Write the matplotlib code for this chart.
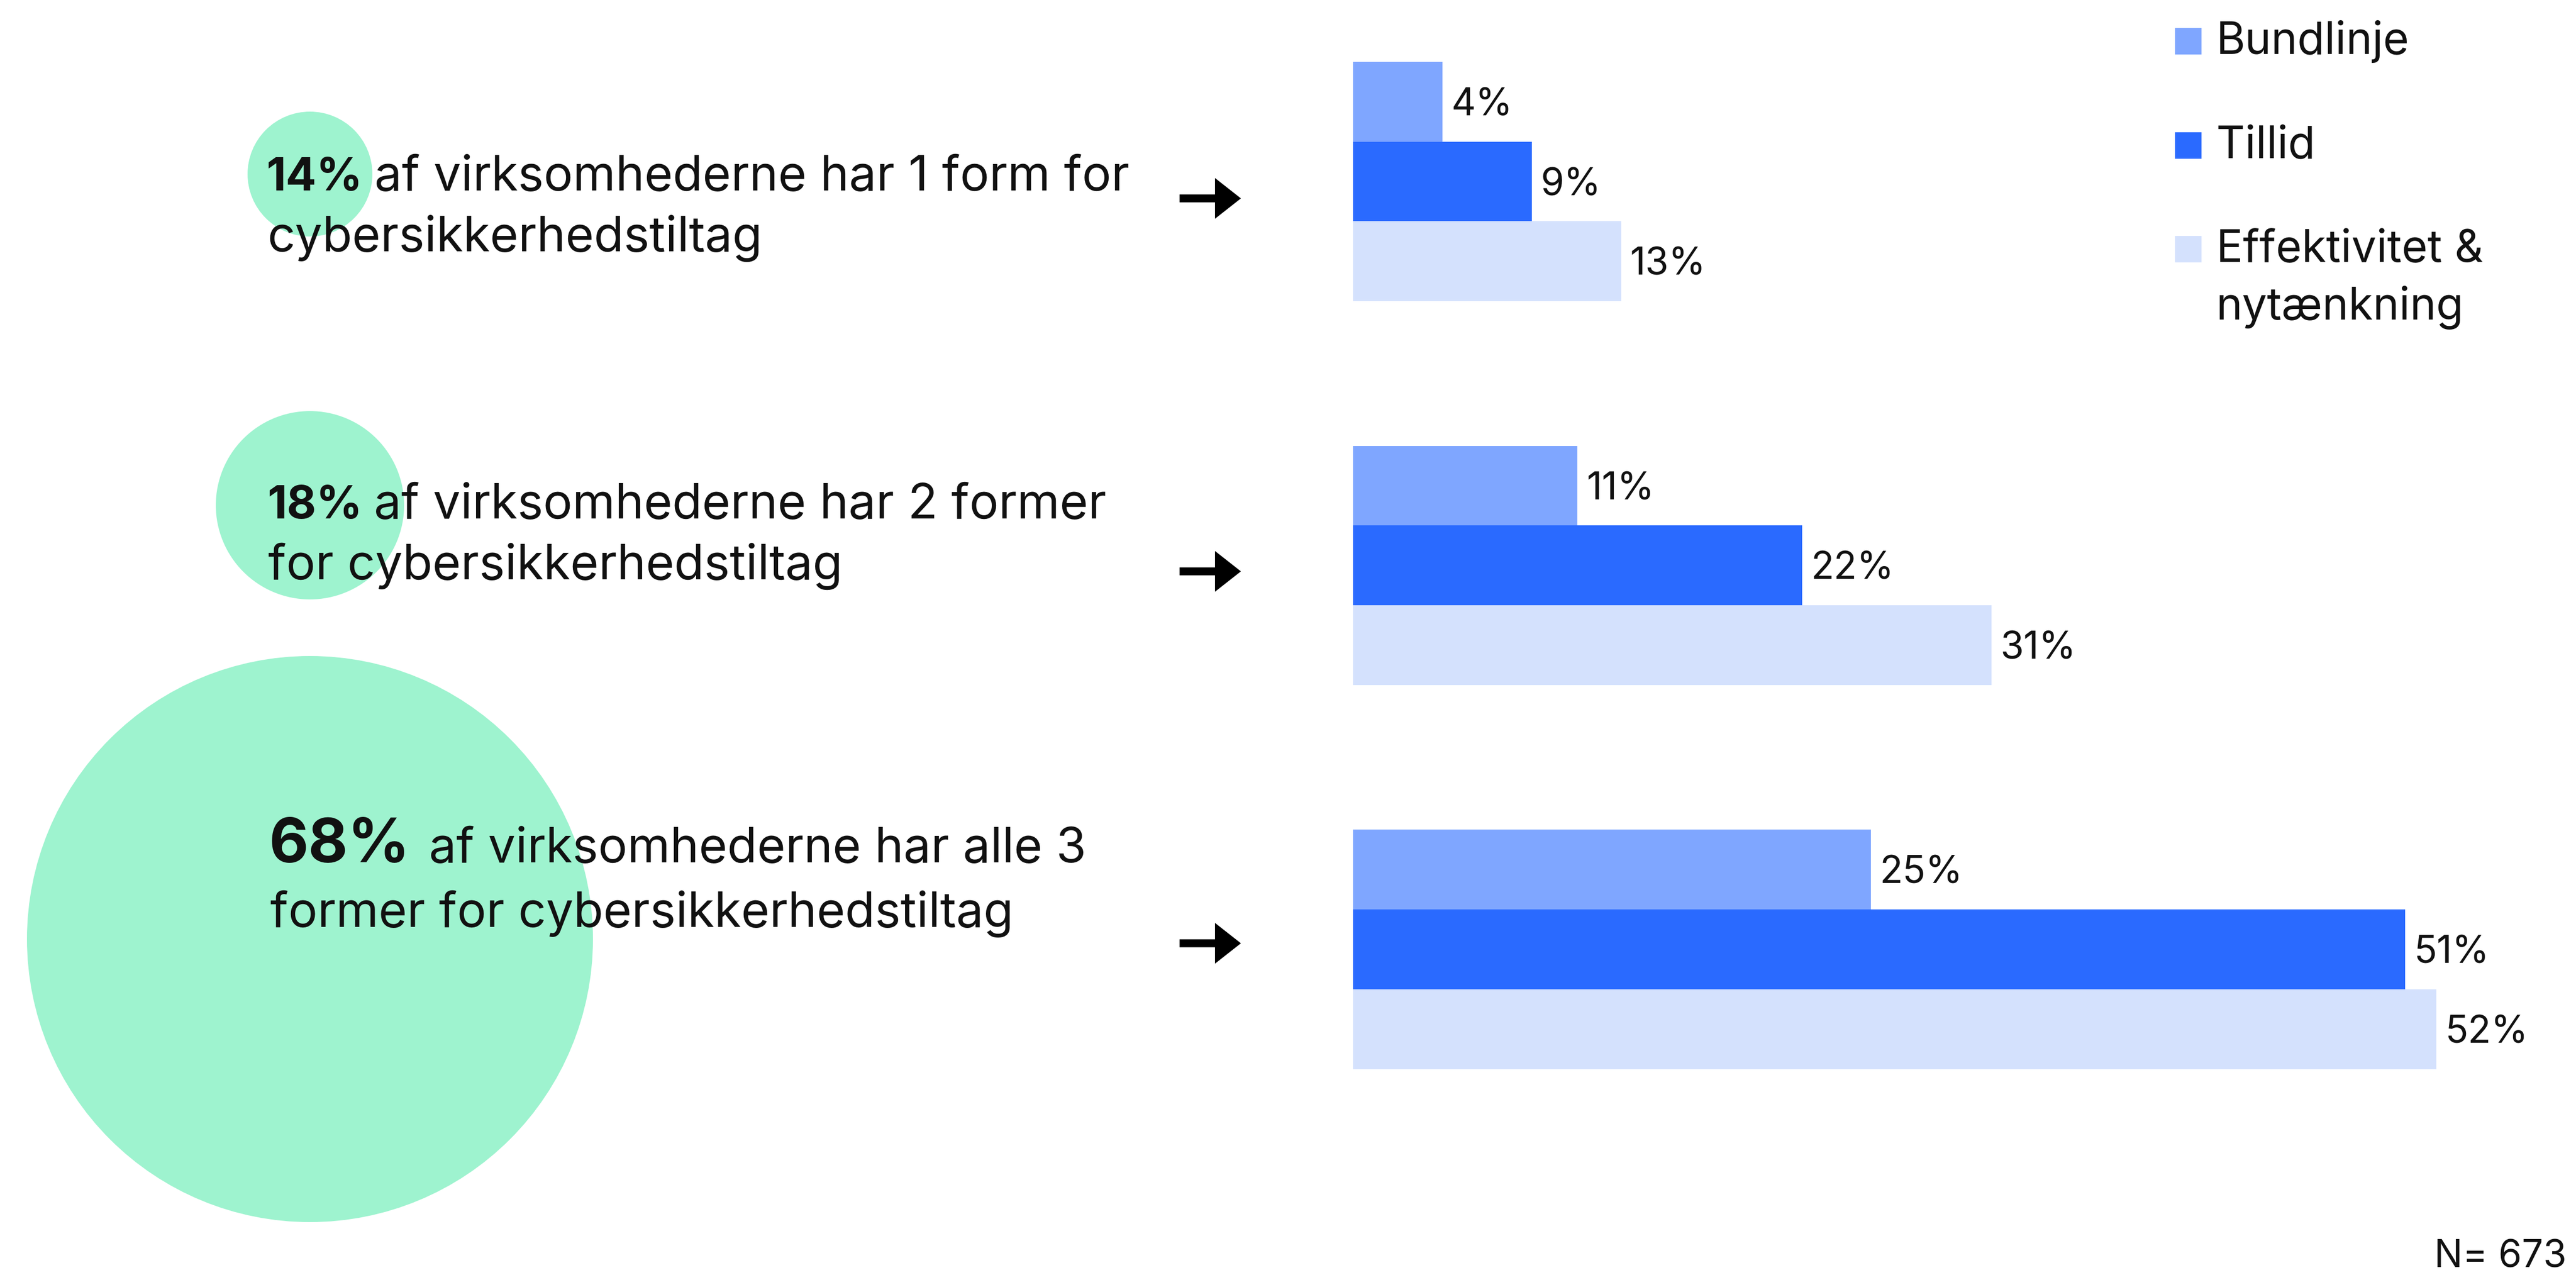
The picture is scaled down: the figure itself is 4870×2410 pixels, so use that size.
import matplotlib
matplotlib.use("Agg")
import matplotlib.pyplot as plt
from matplotlib.patches import Circle, Rectangle, FancyArrow

plt.rcParams['font.family'] = ['Inter', 'DejaVu Sans']

# ---------------- data ----------------
share_pct = [14, 18, 68]
bold_labels = ["14%", "18%", "68%"]
text_line1 = ["af virksomhederne har 1 form for",
              "af virksomhederne har 2 former",
              "af virksomhederne har alle 3"]
text_line2 = ["cybersikkerhedstiltag",
              "for cybersikkerhedstiltag",
              "former for cybersikkerhedstiltag"]
series_names = ["Bundlinje", "Tillid", "Effektivitet &\nnytænkning"]
bundlinje = [4.3, 10.8, 24.9]
tillid = [8.6, 21.6, 50.6]
effektivitet = [12.9, 30.7, 52.1]
n_text = "N= 673"

# ---------------- styles ----------------
W, H = 4870, 2410
colors = ["#7FA6FF", "#2A6AFF", "#D4E1FD"]
circle_color = "#9EF3CF"
txt_color = "#111111"
PT = 72 / 100.0  # px -> pt

fig = plt.figure(figsize=(W / 100, H / 100), dpi=100)
ax0 = fig.add_axes([0, 0, 1, 1])
ax0.set_xlim(0, W)
ax0.set_ylim(H, 0)
ax0.axis("off")

# circles (bubble sizes)
circle_cx = 586
circle_cy = [329, 955, 1775]
circle_r = [118, 178, 535]
for cy, r in zip(circle_cy, circle_r):
    ax0.add_patch(Circle((circle_cx, cy), r, color=circle_color, lw=0, zorder=1))

# texts
main_fs = 67 / 0.727 * PT
bold_fs = [main_fs * 0.93, main_fs * 0.93, 88 / 0.727 * PT * 0.95]
text_x = [503, 505, 509]
rest_x = [708, 707, 811]
base1 = [360, 980, 1630]
base2 = [475, 1095, 1752]
for i in range(3):
    ax0.text(text_x[i], base1[i], bold_labels[i], fontsize=bold_fs[i],
             fontweight="bold", color=txt_color, va="baseline", ha="left", zorder=3)
    ax0.text(rest_x[i], base1[i], text_line1[i], fontsize=main_fs,
             color=txt_color, va="baseline", ha="left", zorder=3)
    ax0.text(text_x[i] + 2, base2[i], text_line2[i], fontsize=main_fs,
             color=txt_color, va="baseline", ha="left", zorder=3)

# arrows
arrow_y = [375, 1080, 1783]
for ay in arrow_y:
    ax0.add_patch(FancyArrow(2230, ay, 116, 0, width=15, head_width=77,
                             head_length=49, length_includes_head=True,
                             color="black", lw=0, zorder=3))

# ---------------- bars ----------------
bar_x0 = 2558
px_per_pct = 39.3
xmax = 55
bar_h = 150.7
first_center = 117 + bar_h / 2
group_step = 725.7 / bar_h
axb = fig.add_axes([bar_x0 / W, 0, xmax * px_per_pct / W, 1])
axb.set_xlim(0, xmax)
axb.set_ylim((H - first_center) / bar_h, -first_center / bar_h)
axb.axis("off")
axb.patch.set_alpha(0)

label_fs = 52 / 0.727 * PT
for i, vals in enumerate([bundlinje, tillid, effektivitet]):
    ys = [g * group_step + i for g in range(3)]
    axb.barh(ys, vals, height=1.0, color=colors[i], lw=0)
    for y, v in zip(ys, vals):
        axb.annotate(f"{round(v)}%", xy=(v, y), xytext=(17 * PT, -26 * PT),
                     textcoords="offset points", fontsize=label_fs,
                     color=txt_color, va="baseline", ha="left")

# ---------------- legend ----------------
leg_fs = 61 / 0.727 * PT
leg_sq_x = 4112
leg_sq_top = [53, 250, 446]
leg_text_x = 4190
leg_base = [102, 298, 494]
for i, name in enumerate(series_names):
    ax0.add_patch(Rectangle((leg_sq_x, leg_sq_top[i]), 50, 50, color=colors[i], lw=0))
    for k, line in enumerate(name.split("\n")):
        ax0.text(leg_text_x, leg_base[i] + k * 110, line, fontsize=leg_fs,
                 color=txt_color, va="baseline", ha="left")

ax0.text(4852, 2396, n_text, fontsize=label_fs, color=txt_color,
         va="baseline", ha="right")

fig.savefig("out.png", dpi=100)
